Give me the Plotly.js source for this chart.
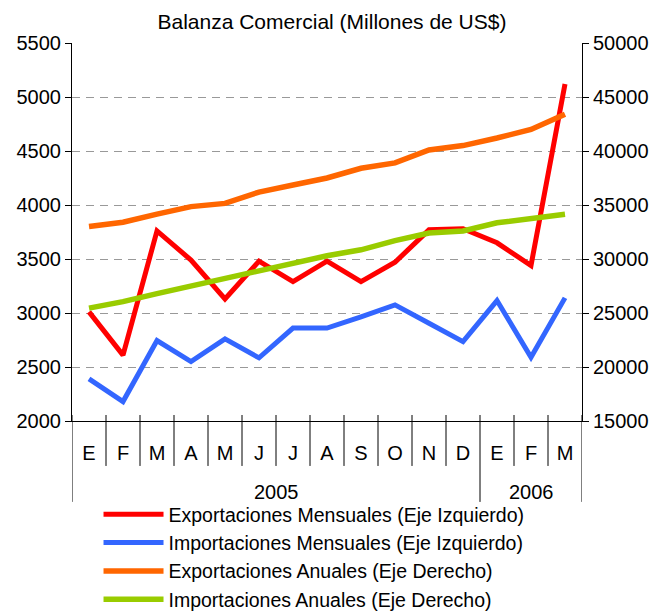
<!DOCTYPE html>
<html>
<head>
<meta charset="utf-8">
<script src="https://cdn.plot.ly/plotly-3.0.1.min.js"></script>
<style>
  html, body { margin: 0; padding: 0; background: #fff; }
  #chart { width: 660px; height: 611px; }
</style>
</head>
<body>
<div id="chart"></div>
<script>
// ---- Data ----
const months = ['E','F','M','A','M','J','J','A','S','O','N','D','E','F','M'];
const years  = ['2005','2005','2005','2005','2005','2005','2005','2005','2005','2005','2005','2005','2006','2006','2006'];

// Left axis (monthly, millions US$)
const exportacionesMensuales = [3010, 2610, 3760, 3490, 3130, 3480, 3290, 3480, 3290, 3470, 3770, 3780, 3650, 3440, 5120];
const importacionesMensuales = [2390, 2180, 2745, 2550, 2760, 2585, 2860, 2860, 2965, 3075, 2905, 2735, 3115, 2590, 3140];
// Right axis (annualised, millions US$)
const exportacionesAnuales = [33000, 33400, 34150, 34850, 35150, 36200, 36850, 37500, 38400, 38900, 40100, 40500, 41200, 42000, 43400];
const importacionesAnuales = [25450, 26050, 26800, 27500, 28200, 28900, 29600, 30300, 30850, 31700, 32400, 32600, 33350, 33750, 34150];

const seriesNames = [
  'Exportaciones Mensuales (Eje Izquierdo)',
  'Importaciones Mensuales (Eje Izquierdo)',
  'Exportaciones Anuales (Eje Derecho)',
  'Importaciones Anuales (Eje Derecho)'
];

// ---- Chart ----
const FONT = 'Liberation Sans, Arial, sans-serif';
const idx = months.map((m, i) => i);   // category positions on the x axis

const traces = [
  { x: idx, y: exportacionesMensuales, name: seriesNames[0], type: 'scatter', mode: 'lines',
    line: { color: '#FF0000', width: 5 }, yaxis: 'y' },
  { x: idx, y: importacionesMensuales, name: seriesNames[1], type: 'scatter', mode: 'lines',
    line: { color: '#3366FF', width: 5 }, yaxis: 'y' },
  { x: idx, y: exportacionesAnuales, name: seriesNames[2], type: 'scatter', mode: 'lines',
    line: { color: '#FF6600', width: 5.5 }, yaxis: 'y2' },
  { x: idx, y: importacionesAnuales, name: seriesNames[3], type: 'scatter', mode: 'lines',
    line: { color: '#99CC00', width: 5.5 }, yaxis: 'y2' }
];

// Axis decoration: month dividers and year group dividers / labels
const plotH = 378.5;
const shapes = [];
const annotations = [];
for (let k = 1; k < months.length; k++) {
  if (years[k] !== years[k - 1]) continue;
  shapes.push({
    type: 'line', xref: 'x', yref: 'paper',
    x0: k - 0.5, x1: k - 0.5, y0: 6 / plotH, y1: -45 / plotH,
    line: { color: '#000000', width: 1 }
  });
}
const groups = [];
years.forEach((yv, i) => {
  if (!groups.length || groups[groups.length - 1].label !== yv) groups.push({ label: yv, start: i, end: i });
  else groups[groups.length - 1].end = i;
});
groups.forEach((g, gi) => {
  shapes.push({
    type: 'line', xref: 'x', yref: 'paper',
    x0: g.start - 0.5, x1: g.start - 0.5, y0: 6 / plotH, y1: -81 / plotH,
    line: { color: '#000000', width: 1 }
  });
  if (gi === groups.length - 1) {
    shapes.push({
      type: 'line', xref: 'x', yref: 'paper',
      x0: g.end + 0.5, x1: g.end + 0.5, y0: 6 / plotH, y1: -81 / plotH,
      line: { color: '#000000', width: 1 }
    });
  }
  annotations.push({
    text: g.label, xref: 'x', yref: 'paper',
    x: (g.start + g.end) / 2, y: -71 / plotH,
    xanchor: 'center', yanchor: 'middle', showarrow: false,
    font: { family: FONT, size: 20, color: '#000000' }
  });
});

const layout = {
  width: 660, height: 611,
  margin: { l: 72, r: 78, t: 43, b: 189.5 },
  paper_bgcolor: '#ffffff', plot_bgcolor: '#ffffff',
  font: { family: FONT, size: 20, color: '#000000' },
  title: {
    text: 'Balanza Comercial (Millones de US$)',
    font: { family: FONT, size: 21, color: '#000000' },
    x: 0.503, xref: 'container', xanchor: 'center',
    y: 1 - 22 / 611, yref: 'container', yanchor: 'middle'
  },
  showlegend: true,
  legend: {
    orientation: 'v', x: 0.052, xanchor: 'left',
    y: 1 - 495 / 611, yref: 'container', yanchor: 'top',
    font: { family: FONT, size: 19.5, color: '#000000' },
    bgcolor: 'rgba(0,0,0,0)', itemwidth: 60, tracegroupgap: 0
  },
  xaxis: {
    type: 'linear', range: [-0.5, months.length - 0.5],
    tickmode: 'array', tickvals: idx, ticktext: months,
    showline: true, linecolor: '#000000', linewidth: 1,
    ticks: '', showgrid: false, zeroline: false,
    tickfont: { family: FONT, size: 20, color: '#000000' },
    ticklabelstandoff: 14
  },
  yaxis: {
    range: [2000, 5500], dtick: 500, tick0: 2000,
    showline: true, linecolor: '#000000', linewidth: 1,
    ticks: 'outside', ticklen: 6, tickcolor: '#000000',
    showgrid: true, gridcolor: '#999999', griddash: '8px,6px', gridwidth: 1,
    zeroline: false,
    tickfont: { family: FONT, size: 20, color: '#000000' }
  },
  yaxis2: {
    range: [15000, 50000], dtick: 5000, tick0: 15000, tickformat: 'd',
    overlaying: 'y', side: 'right',
    showline: true, linecolor: '#000000', linewidth: 1,
    ticks: 'outside', ticklen: 6, tickcolor: '#000000',
    showgrid: false, zeroline: false,
    tickfont: { family: FONT, size: 20, color: '#000000' }
  },
  shapes: shapes,
  annotations: annotations
};

Plotly.newPlot('chart', traces, layout, { displayModeBar: false, staticPlot: true });
</script>
</body>
</html>
